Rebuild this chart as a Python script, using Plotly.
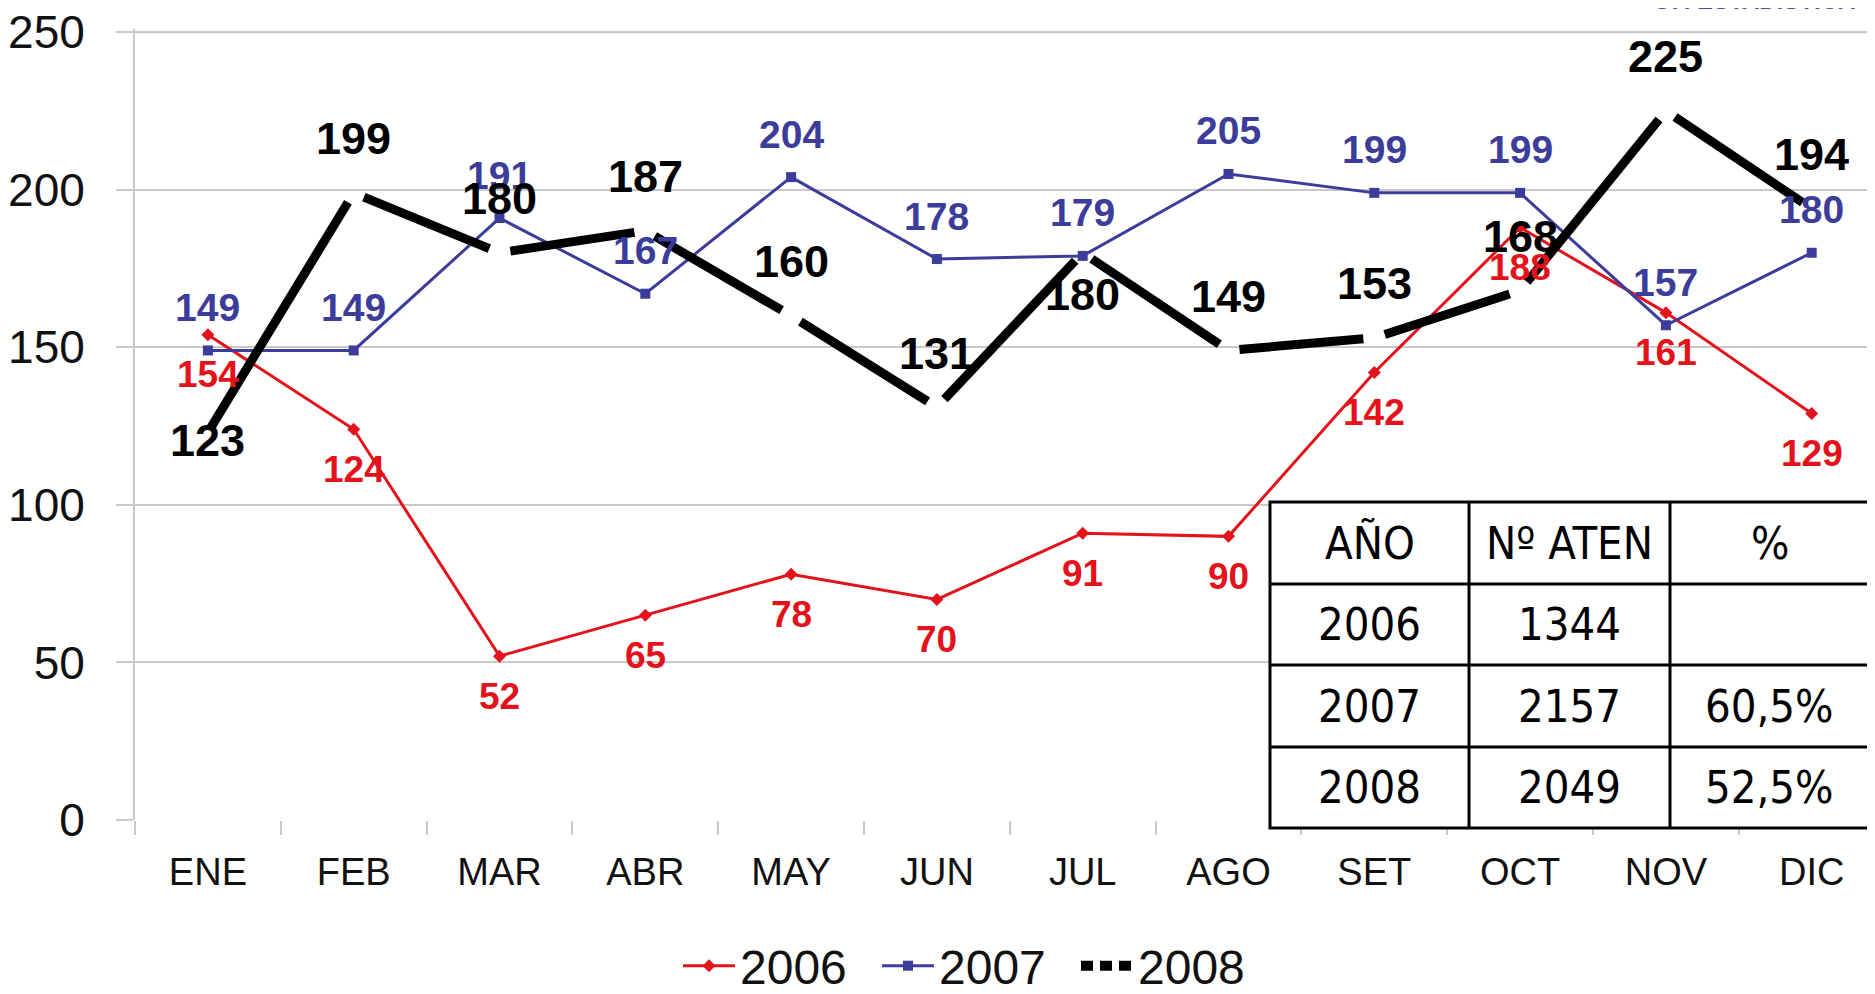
import math
import plotly.graph_objects as go

# ---------------- data ----------------
months = ["ENE", "FEB", "MAR", "ABR", "MAY", "JUN", "JUL", "AGO", "SET", "OCT", "NOV", "DIC"]
y2006 = [154, 124, 52, 65, 78, 70, 91, 90, 142, 188, 161, 129]
y2007 = [149, 149, 191, 167, 204, 178, 179, 205, 199, 199, 157, 180]
y2008 = [123, 199, 180, 187, 160, 131, 180, 149, 153, 168, 225, 194]
series_names = ["2006", "2007", "2008"]

table_header = ["AÑO", "Nº ATEN", "%"]
table_years = ["2006", "2007", "2008"]
table_aten = ["1344", "2157", "2049"]
table_pct = ["", "60,5%", "52,5%"]

# ---------------- layout constants ----------------
OFF = 8                      # browser body margin
W, H = 1875, 994
# page-space targets
P_LEFT, P_TOP, P_BOTTOM = 135, 32, 820
CAT_STEP = 145.8
Y_TOP_TICK = 250
Y_PAD = 1                    # small headroom above the top gridline
SY = (P_BOTTOM - P_TOP) / Y_TOP_TICK
YMAX = Y_TOP_TICK + Y_PAD
L = P_LEFT - OFF
T = round(P_TOP - OFF - Y_PAD * SY)
B = H - (P_BOTTOM - OFF)
R = 0
PW, PH = W - L - R, H - T - B
XMIN = -0.5
XMAX = XMIN + PW / CAT_STEP

RED = "#e3121b"
BLUE = "#3c3c9a"
BLACK = "#000000"
GRID = "#c9c9c9"
FONT = "Liberation Sans, Arial, sans-serif"
TFONT = "Liberation Sans Narrow, DejaVu Sans Condensed, sans-serif"

# label offsets in px (layout only)
shift_2006 = [-40] * 12
shift_2007 = [43] * 12
shift_2008 = [-8, 54, 54, 54, 54, 54, -42, 54, 54, 54, 54, 54]

def pxx(px):
    """page x pixel -> paper fraction"""
    return (px - OFF - L) / PW

def pxy(py):
    """page y pixel -> paper fraction"""
    return (H - B - (py - OFF)) / PH

xs = list(range(len(months)))
fig = go.Figure()

fig.add_trace(go.Scatter(
    x=xs, y=y2006, name=series_names[0], mode="lines+markers",
    line=dict(color=RED, width=3),
    marker=dict(symbol="diamond", size=10, color=RED),
))
fig.add_trace(go.Scatter(
    x=xs, y=y2007, name=series_names[1], mode="lines+markers",
    line=dict(color=BLUE, width=3),
    marker=dict(symbol="square", size=10, color=BLUE),
))
# legend entry for 2008
fig.add_trace(go.Scatter(
    x=[None], y=[None], name=series_names[2], mode="lines",
    line=dict(color=BLACK, width=10, dash="12px,7px"), legendgroup="2008",
))
# 2008 line drawn as separate dashes with gaps at each vertex
sx = CAT_STEP
sy = PH / YMAX
gap = 11
for i in range(len(y2008) - 1):
    dv = y2008[i + 1] - y2008[i]
    Lpx = math.hypot(sx, dv * sy)
    g0 = (3 if i == 0 else gap) / Lpx
    g1 = gap / Lpx
    fig.add_trace(go.Scatter(
        x=[i + g0, i + 1 - g1],
        y=[y2008[i] + g0 * dv, y2008[i + 1] - g1 * dv],
        mode="lines", line=dict(color=BLACK, width=9),
        showlegend=False, legendgroup="2008", hoverinfo="skip",
    ))

annotations = []
for i in xs:
    annotations.append(dict(x=i, y=y2006[i], text=str(y2006[i]), showarrow=False,
                            yshift=shift_2006[i], font=dict(family=FONT, size=37, color=RED, weight="bold")))
    annotations.append(dict(x=i, y=y2007[i], text=str(y2007[i]), showarrow=False,
                            yshift=shift_2007[i], font=dict(family=FONT, size=39, color=BLUE, weight="bold")))
    annotations.append(dict(x=i, y=y2008[i], text=str(y2008[i]), showarrow=False,
                            yshift=shift_2008[i], font=dict(family=FONT, size=45, color=BLACK, weight="bold")))

# clipped heading at top right
annotations.append(dict(xref="paper", yref="paper", x=pxx(1857), y=pxy(16), xanchor="right",
                        yanchor="bottom", text="OF. ESTADISTICA", showarrow=False,
                        font=dict(family=FONT, size=24, color="#4a4aa8", weight="bold")))

shapes = []
# top gridline (explicit, so it is always drawn)
shapes.append(dict(type="line", xref="paper", yref="y", x0=0, x1=1, y0=Y_TOP_TICK, y1=Y_TOP_TICK,
                   line=dict(color=GRID, width=2), layer="below"))

# ---------------- table ----------------
tx0, tx1, ty0, ty1 = 1270, 1869, 502, 828
col_edges = [1270, 1469, 1670, 1869]
row_edges = [502, 584, 665, 747, 828]
shapes.append(dict(type="rect", xref="paper", yref="paper", x0=pxx(tx0), x1=pxx(tx1),
                   y0=pxy(ty1), y1=pxy(ty0), fillcolor="white", line=dict(color="black", width=3),
                   layer="above"))
for cx in col_edges[1:-1]:
    shapes.append(dict(type="line", xref="paper", yref="paper", x0=pxx(cx), x1=pxx(cx),
                       y0=pxy(ty1), y1=pxy(ty0), line=dict(color="black", width=3), layer="above"))
for ry in row_edges[1:-1]:
    shapes.append(dict(type="line", xref="paper", yref="paper", x0=pxx(tx0), x1=pxx(tx1),
                       y0=pxy(ry), y1=pxy(ry), line=dict(color="black", width=3), layer="above"))

rows = [table_header] + [[a, b, c] for a, b, c in zip(table_years, table_aten, table_pct)]
for r, row in enumerate(rows):
    cy = (row_edges[r] + row_edges[r + 1]) / 2
    for c, txt in enumerate(row):
        cx = (col_edges[c] + col_edges[c + 1]) / 2
        annotations.append(dict(xref="paper", yref="paper", x=pxx(cx), y=pxy(cy), text=txt,
                                showarrow=False, xanchor="center", yanchor="middle",
                                font=dict(family=TFONT, size=45, color="black")))

fig.update_layout(
    width=W, height=H,
    margin=dict(l=L, r=R, t=T, b=B, pad=0, autoexpand=False),
    plot_bgcolor="white", paper_bgcolor="white",
    showlegend=True,
    legend=dict(orientation="h", x=pxx(678), y=pxy(966), xanchor="left", yanchor="middle",
                font=dict(family=FONT, size=48, color="#111111"), bgcolor="rgba(0,0,0,0)",
                itemwidth=52, entrywidth=132, entrywidthmode="pixels", traceorder="normal"),
    annotations=annotations,
    shapes=shapes,
    font=dict(family=FONT, color="#111111"),
)
fig.update_xaxes(
    range=[XMIN, XMAX], tickmode="array", tickvals=xs, ticktext=months,
    showgrid=False, zeroline=False, showline=False, ticks="", automargin=False,
    ticklabeloverflow="allow",
    tickfont=dict(family=FONT, size=38, color="#111111"), ticklabelstandoff=26,
    minor=dict(tickmode="array", tickvals=[i - 0.5 for i in range(len(months) + 1)],
               ticks="outside", ticklen=14, tickwidth=2, tickcolor=GRID, showgrid=False),
)
fig.update_yaxes(
    range=[0, YMAX], tickmode="array", tickvals=list(range(0, Y_TOP_TICK + 1, 50)),
    automargin=False, ticklabeloverflow="allow",
    showgrid=True, gridcolor=GRID, gridwidth=2, zeroline=False,
    showline=True, linecolor=GRID, linewidth=2,
    ticks="outside", ticklen=17, tickwidth=2, tickcolor=GRID,
    tickfont=dict(family=FONT, size=46, color="#111111"), ticklabelstandoff=22,
)

fig.write_html("out.html")
